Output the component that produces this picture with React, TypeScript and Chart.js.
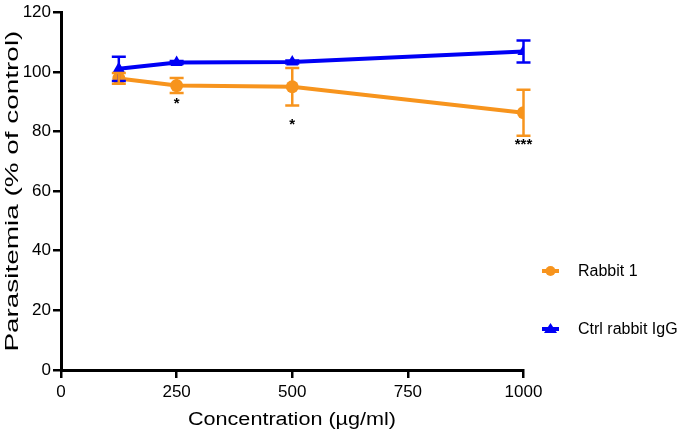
import React, { useEffect, useRef } from "react";
import { Chart, registerables } from "chart.js";

Chart.register(...registerables);

const concentrations = [125, 250, 500, 1000];
const rabbit1 = [97.8, 95.4, 95.0, 86.3];
const rabbit1Err = [1.8, 2.5, 6.3, 7.7];
const ctrlIgG = [101.0, 103.1, 103.3, 106.8];
const ctrlErr = [4.1, 0.5, 0.5, 3.7];
const starLabels = ["", "*", "*", "***"];
const starY = [0, 90.2, 83.2, 76.6];
const yTicks = [0, 20, 40, 60, 80, 100, 120];
const xTicks = [0, 250, 500, 750, 1000];

const ORANGE = "#F7941D";
const BLUE = "#0000F5";
const FONT = "'Liberation Sans', Arial, sans-serif";

export default function App() {
  const ref = useRef<HTMLCanvasElement | null>(null);
  useEffect(() => {
    document.body.style.margin = "0";
    const canvas = ref.current!;
    const errPlugin = {
      id: "extras",
      afterDatasetsDraw(chart: any) {
        const ctx = chart.ctx;
        const xs = chart.scales.x;
        const ys = chart.scales.y;
        const sets = [
          { v: ctrlIgG, e: ctrlErr, c: BLUE },
          { v: rabbit1, e: rabbit1Err, c: ORANGE },
        ];
        ctx.save();
        sets.forEach((s) => {
          ctx.strokeStyle = s.c;
          ctx.lineWidth = 2.5;
          concentrations.forEach((cx, i) => {
            const x = xs.getPixelForValue(cx);
            const yt = ys.getPixelForValue(s.v[i] + s.e[i]);
            const yb = ys.getPixelForValue(s.v[i] - s.e[i]);
            ctx.beginPath();
            ctx.moveTo(x, yt);
            ctx.lineTo(x, yb);
            ctx.moveTo(x - 7, yt);
            ctx.lineTo(x + 7, yt);
            ctx.moveTo(x - 7, yb);
            ctx.lineTo(x + 7, yb);
            ctx.stroke();
          });
        });
        // stars
        ctx.fillStyle = "#000";
        ctx.font = `bold 15px ${FONT}`;
        ctx.textAlign = "center";
        ctx.textBaseline = "middle";
        concentrations.forEach((cx, i) => {
          if (!starLabels[i]) return;
          ctx.fillText(starLabels[i], xs.getPixelForValue(cx), ys.getPixelForValue(starY[i]) + 3);
        });
        // axis titles
        ctx.font = `18px ${FONT}`;
        ctx.save();
        ctx.translate(13, (chart.chartArea.top + chart.chartArea.bottom) / 2);
        ctx.rotate(-Math.PI / 2);
        ctx.scale(1.55, 1);
        ctx.fillText("Parasitemia (% of control)", 0, 0);
        ctx.restore();
        ctx.save();
        ctx.translate(292, 420);
        ctx.scale(1.2, 1);
        ctx.fillText("Concentration (µg/ml)", 0, 0);
        ctx.restore();
        // legend
        const leg = [
          { label: "Rabbit 1", c: ORANGE, y: 271, tri: false },
          { label: "Ctrl rabbit IgG", c: BLUE, y: 329, tri: true },
        ];
        ctx.font = `16px ${FONT}`;
        ctx.textAlign = "left";
        leg.forEach((l) => {
          ctx.strokeStyle = l.c;
          ctx.fillStyle = l.c;
          ctx.lineWidth = 4;
          ctx.beginPath();
          ctx.moveTo(542, l.y);
          ctx.lineTo(559, l.y);
          ctx.stroke();
          ctx.beginPath();
          if (l.tri) {
            ctx.moveTo(550.5, l.y - 6);
            ctx.lineTo(557, l.y + 4);
            ctx.lineTo(544, l.y + 4);
            ctx.closePath();
          } else {
            ctx.arc(550.5, l.y, 5, 0, Math.PI * 2);
          }
          ctx.fill();
          ctx.fillStyle = "#000";
          ctx.fillText(l.label, 578, l.y + 1);
        });
        ctx.restore();
      },
    };

    const chart = new Chart(canvas, {
      type: "line",
      data: {
        datasets: [
          {
            label: "Ctrl rabbit IgG",
            data: concentrations.map((x, i) => ({ x, y: ctrlIgG[i] })),
            borderColor: BLUE,
            backgroundColor: BLUE,
            borderWidth: 4,
            pointStyle: "triangle",
            pointRadius: 7,
            pointBorderWidth: 0,
            order: 1,
          },
          {
            label: "Rabbit 1",
            data: concentrations.map((x, i) => ({ x, y: rabbit1[i] })),
            borderColor: ORANGE,
            backgroundColor: ORANGE,
            borderWidth: 4,
            pointStyle: "circle",
            pointRadius: 6.5,
            pointBorderWidth: 0,
            order: 2,
          },
        ],
      },
      options: {
        animation: false,
        responsive: false,
        layout: { padding: { left: 0, right: 154.5, top: 7, bottom: 0 } },
        plugins: { legend: { display: false }, tooltip: { enabled: false } },
        scales: {
          x: {
            type: "linear",
            min: 0,
            max: 1000,
            afterBuildTicks: (s: any) => {
              s.ticks = xTicks.map((v) => ({ value: v }));
            },
            afterFit: (s: any) => {
              s.height = 65;
            },
            grid: { drawOnChartArea: false, color: "#000", lineWidth: 2.5, tickLength: 8 },
            border: { color: "#000", width: 3 },
            ticks: {
              color: "#000",
              font: { family: FONT, size: 17 },
              padding: 4,
              maxRotation: 0,
              callback: (v: any) => String(v),
            },
          },
          y: {
            min: 0,
            max: 120,
            afterBuildTicks: (s: any) => {
              s.ticks = yTicks.map((v) => ({ value: v }));
            },
            afterFit: (s: any) => {
              s.width = 61;
            },
            grid: { drawOnChartArea: false, color: "#000", lineWidth: 2.5, tickLength: 8 },
            border: { color: "#000", width: 3 },
            ticks: {
              color: "#000",
              font: { family: FONT, size: 17 },
              padding: 2,
              callback: (v: any) => String(v),
            },
          },
        },
      },
      plugins: [errPlugin],
    });
    return () => chart.destroy();
  }, []);
  return (
    <div style={{ width: 678, height: 435 }}>
      <canvas ref={ref} width={678} height={435} />
    </div>
  );
}
